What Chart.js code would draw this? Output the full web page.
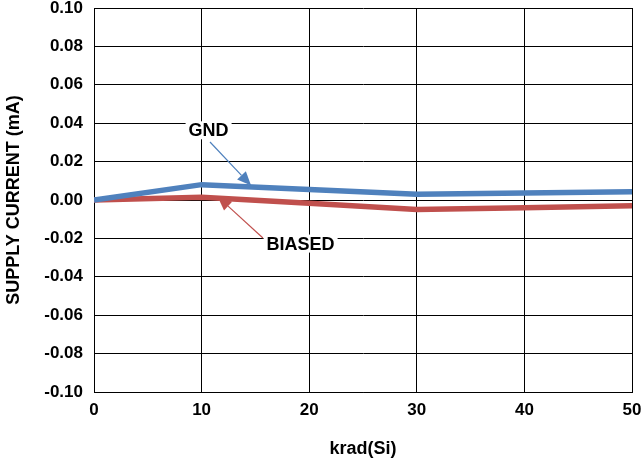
<!DOCTYPE html>
<html>
<head>
<meta charset="utf-8">
<script src="https://cdn.jsdelivr.net/npm/chart.js@4/dist/chart.umd.min.js"></script>
<style>
  html, body { margin: 0; padding: 0; background: #fff; }
  #wrap { width: 642px; height: 460px; }
</style>
</head>
<body>
<div id="wrap"><canvas id="grafico"></canvas></div>
<script>
// Datos
const dosis = [0, 10, 20, 30, 40, 50];
const gnd = [0.000, 0.008, 0.0055, 0.003, 0.0036, 0.0043];
const biased = [0.000, 0.0014, -0.0017, -0.0049, -0.0040, -0.0030];
const serieNombres = ['GND', 'BIASED'];
const colores = ['#4F81BD', '#C0504D'];

// Etiquetas con flecha (coordenadas en unidades de datos)
const notas = [
  { texto: 'GND', tx: 10.65, ty: 0.0363, x0: 10.78, y0: 0.0302, x1: 14.6, y1: 0.0075, color: colores[0] },
  { texto: 'BIASED', tx: 19.2, ty: -0.0227, x0: 15.7, y0: -0.0198, x1: 11.5, y1: 0.0017, color: colores[1] }
];

const fuente = 'Liberation Sans, Arial, sans-serif';

const pluginNotas = {
  id: 'notas',
  afterDatasetsDraw(chart) {
    const ctx = chart.ctx;
    const xs = chart.scales.x, ys = chart.scales.y;
    ctx.save();
    notas.forEach(n => {
      const ax = xs.getPixelForValue(n.x0), ay = ys.getPixelForValue(n.y0);
      const bx = xs.getPixelForValue(n.x1), by = ys.getPixelForValue(n.y1);
      const ang = Math.atan2(by - ay, bx - ax);
      const largo = 14, ancho = 6;
      // línea
      ctx.strokeStyle = n.color;
      ctx.lineWidth = 1.2;
      ctx.beginPath();
      ctx.moveTo(ax, ay);
      ctx.lineTo(bx - Math.cos(ang) * largo, by - Math.sin(ang) * largo);
      ctx.stroke();
      // punta
      ctx.fillStyle = n.color;
      ctx.beginPath();
      ctx.moveTo(bx, by);
      ctx.lineTo(bx - Math.cos(ang) * largo - Math.sin(ang) * ancho, by - Math.sin(ang) * largo + Math.cos(ang) * ancho);
      ctx.lineTo(bx - Math.cos(ang) * largo + Math.sin(ang) * ancho, by - Math.sin(ang) * largo - Math.cos(ang) * ancho);
      ctx.closePath();
      ctx.fill();
      // texto con fondo blanco
      const tx = xs.getPixelForValue(n.tx), ty = ys.getPixelForValue(n.ty);
      ctx.font = 'bold 18px ' + fuente;
      const w = ctx.measureText(n.texto).width;
      ctx.fillStyle = '#fff';
      ctx.fillRect(tx - w / 2 - 3, ty - 9, w + 6, 18);
      ctx.fillStyle = '#000';
      ctx.textAlign = 'center';
      ctx.textBaseline = 'middle';
      ctx.fillText(n.texto, tx, ty + 1);
    });
    ctx.restore();
  }
};

const ctx = document.getElementById('grafico').getContext('2d');
const chart = new Chart(ctx, {
  type: 'line',
  data: {
    labels: dosis,
    datasets: [
      {
        label: serieNombres[0],
        data: dosis.map((d, i) => ({ x: d, y: gnd[i] })),
        borderColor: colores[0],
        borderWidth: 5.5,
        pointRadius: 0,
        tension: 0,
        fill: false
      },
      {
        label: serieNombres[1],
        data: dosis.map((d, i) => ({ x: d, y: biased[i] })),
        borderColor: colores[1],
        borderWidth: 5.5,
        pointRadius: 0,
        tension: 0,
        fill: false
      }
    ]
  },
  options: {
    responsive: true,
    maintainAspectRatio: false,
    animation: false,
    layout: { padding: { left: 3, top: 0, right: 0, bottom: 0 } },
    plugins: {
      legend: { display: false },
      tooltip: { enabled: false }
    },
    scales: {
      x: {
        type: 'linear',
        min: 0, max: 50,
        border: { color: '#000', width: 1 },
        grid: { color: '#000', lineWidth: 1, drawTicks: false },
        ticks: {
          stepSize: 10,
          padding: 10,
          color: '#000',
          font: { family: fuente, size: 17, weight: 'bold', lineHeight: 1 }
        },
        title: {
          display: true,
          text: 'krad(Si)',
          color: '#000',
          padding: { top: 10, bottom: 0 },
          font: { family: fuente, size: 18, weight: 'bold' }
        },
        afterFit(scale) {
          scale.height = 68;
          scale.paddingLeft = 0;
          scale.paddingRight = 10;
        }
      },
      y: {
        min: -0.10, max: 0.10,
        border: { color: '#000', width: 1 },
        grid: { color: '#000', lineWidth: 1, drawTicks: false },
        ticks: {
          stepSize: 0.02,
          padding: 11,
          color: '#000',
          font: { family: fuente, size: 17, weight: 'bold', lineHeight: 1 },
          callback: v => (Math.abs(v) < 1e-9 ? 0 : v).toFixed(2)
        },
        title: {
          display: true,
          text: 'SUPPLY CURRENT (mA)',
          color: '#000',
          padding: { top: 0, bottom: 4 },
          font: { family: fuente, size: 18, weight: 'bold' }
        },
        afterFit(scale) {
          scale.width = 91;
          scale.paddingTop = 8;
          scale.paddingBottom = 0;
        }
      }
    }
  },
  plugins: [pluginNotas]
});
</script>
</body>
</html>
